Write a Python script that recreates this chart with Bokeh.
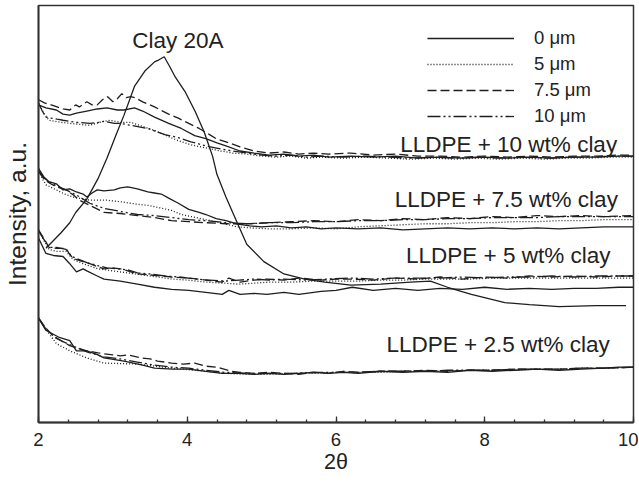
from bokeh.plotting import figure
from bokeh.models import Range1d, SingleIntervalTicker, FixedTicker, Legend, LegendItem, ColumnDataSource
from bokeh.embed import file_html
from bokeh.resources import INLINE
from bokeh.core.properties import value

FONT = "Liberation Sans"

thickness_labels = ["0 μm", "5 μm", "7.5 μm", "10 μm"]
group_labels = ["LLDPE + 10 wt% clay", "LLDPE + 7.5 wt% clay", "LLDPE + 5 wt% clay", "LLDPE + 2.5 wt% clay"]
group_label_x = [9.78, 9.79, 9.69, 9.68]
group_label_y = [271, 218, 163, 76]
clay_label = ["Clay 20A"]
clay_label_x = [3.26]
clay_label_y = [373]

# Clay 20A
x_clay = [2.1, 2.3, 2.42, 2.5, 2.65, 2.8, 2.92, 3.05, 3.15, 3.29, 3.43, 3.56, 3.62, 3.69, 3.76, 3.84,
          3.97, 4.11, 4.23, 4.34, 4.4, 4.52, 4.66, 4.8, 5.03, 5.3, 5.58, 5.85, 6.2, 6.6, 7.0, 7.27,
          7.5, 7.82, 8.27, 8.6, 9.0, 9.5, 9.9]
y_clay = [170, 185, 195, 205, 218, 238, 258, 282, 300, 328, 343, 352, 354, 357, 348, 337,
          323, 303, 283, 260, 242, 220, 197, 174, 157, 145, 140, 137, 134, 135, 137, 138,
          132, 125, 117, 115, 113, 114, 114]

# LLDPE + 10 wt% clay
x_10_0 = [2.00, 2.10, 2.24, 2.33, 2.42, 2.51, 2.65, 2.79, 2.92, 3.06, 3.15, 3.29, 3.40, 3.56, 3.75, 3.92,
          4.10, 4.25, 4.40, 4.52, 4.71, 4.90, 5.1, 5.3, 5.5, 5.7, 5.9, 6.2, 6.5, 6.8, 7.1, 7.4, 7.7,
          8.0, 8.3, 8.6, 8.9, 9.2, 9.5, 9.8, 10.0]
y_10_0 = [310, 307, 305, 301, 300, 302, 304, 306, 307, 305, 305, 307, 304, 298, 292, 287,
          280, 277, 273, 270, 265, 263, 261, 262, 260, 261, 259, 260, 259, 260, 258, 259, 258,
          259, 258, 259, 258, 259, 259, 260, 260]
x_10_5 = [2.00, 2.07, 2.14, 2.30, 2.42, 2.55, 2.69, 2.82, 2.96, 3.10, 3.24, 3.40, 3.56, 3.75, 3.88, 4.05,
          4.25, 4.45, 4.61, 4.80, 5.0, 5.2, 5.4, 5.6, 5.8, 6.1, 6.4, 6.7, 7.0, 7.3, 7.6, 7.9, 8.2,
          8.5, 8.8, 9.1, 9.4, 9.7, 10.0]
y_10_5 = [312, 302, 295, 293, 292, 291, 290, 293, 295, 293, 293, 289, 285, 279, 275, 271,
          268, 265, 263, 262, 260, 259, 260, 258, 259, 258, 259, 258, 257, 258, 257, 258, 257,
          258, 257, 258, 258, 259, 259]
x_10_75 = [2.00, 2.08, 2.17, 2.25, 2.33, 2.42, 2.50, 2.55, 2.65, 2.72, 2.79, 2.86, 2.93, 3.00, 3.06, 3.12,
           3.18, 3.24, 3.30, 3.40, 3.56, 3.75, 3.88, 4.02, 4.16, 4.30, 4.39, 4.52, 4.71, 4.90, 5.1,
           5.3, 5.5, 5.7, 5.9, 6.2, 6.5, 6.8, 7.1, 7.4, 7.7, 8.0, 8.3, 8.6, 8.9, 9.2, 9.5, 9.8, 10.0]
y_10_75 = [315, 312, 310, 308, 306, 305, 310, 308, 313, 310, 310, 315, 318, 313, 316, 321,
           317, 318, 317, 313, 308, 301, 297, 292, 287, 281, 277, 274, 269, 265, 263,
           264, 262, 263, 262, 263, 261, 262, 260, 260, 259, 260, 259, 260, 259, 260, 260, 261, 261]
x_10_10 = [2.00, 2.05, 2.10, 2.25, 2.33, 2.50, 2.69, 2.82, 2.88, 3.02, 3.10, 3.24, 3.47, 3.70, 3.88, 4.05,
           4.25, 4.45, 4.61, 4.80, 5.0, 5.2, 5.4, 5.6, 5.8, 6.1, 6.4, 6.7, 7.0, 7.3, 7.6, 7.9, 8.2,
           8.5, 8.8, 9.1, 9.4, 9.7, 10.0]
y_10_10 = [312, 304, 298, 296, 295, 293, 292, 293, 294, 292, 292, 290, 287, 281, 278, 274,
           270, 267, 265, 263, 261, 260, 261, 259, 260, 259, 260, 259, 258, 259, 258, 259, 258,
           259, 258, 259, 259, 260, 260]

# LLDPE + 7.5 wt% clay
x_75_0 = [2.00, 2.07, 2.14, 2.24, 2.33, 2.42, 2.51, 2.60, 2.65, 2.72, 2.79, 2.88, 3.02, 3.10, 3.20, 3.33,
          3.47, 3.56, 3.65, 3.75, 3.88, 4.02, 4.16, 4.25, 4.39, 4.52, 4.66, 4.84, 5.0, 5.2, 5.4, 5.6,
          5.8, 6.0, 6.3, 6.6, 6.9, 7.2, 7.5, 7.8, 8.1, 8.4, 8.7, 9.0, 9.3, 9.6, 10.0]
y_75_0 = [248, 240, 235, 233, 227, 228, 225, 223, 220, 224, 227, 226, 227, 229, 230, 228,
          225, 224, 223, 219, 214, 208, 205, 203, 199, 197, 194, 192, 191, 192, 190, 191,
          189, 190, 189, 190, 188, 189, 190, 189, 190, 189, 190, 189, 190, 191, 191]
x_75_5 = [2.00, 2.05, 2.10, 2.24, 2.35, 2.47, 2.69, 2.92, 3.15, 3.33, 3.47, 3.79, 3.92, 4.25, 4.45, 4.66,
          4.84, 5.1, 5.4, 5.7, 6.0, 6.3, 6.6, 6.9, 7.2, 7.5, 7.8, 8.1, 8.4, 8.7, 9.0, 9.3, 9.6, 10.0]
y_75_5 = [248, 238, 232, 227, 223, 220, 217, 217, 215, 213, 212, 207, 203, 198, 195, 191,
          190, 189, 189, 190, 189, 191, 192, 193, 194, 194, 195, 195, 196, 196, 197, 197, 198, 198]
x_75_75 = [2.00, 2.07, 2.14, 2.24, 2.37, 2.47, 2.55, 2.69, 2.88, 3.10, 3.33, 3.56, 3.79, 4.02, 4.25, 4.52,
           4.84, 5.1, 5.4, 5.7, 6.0, 6.3, 6.6, 6.9, 7.2, 7.5, 7.8, 8.1, 8.4, 8.7, 9.0, 9.3, 9.6, 10.0]
y_75_75 = [245, 238, 234, 230, 227, 222, 217, 212, 205, 204, 202, 200, 197, 196, 195, 194,
           194, 195, 196, 197, 196, 198, 197, 199, 198, 200, 199, 201, 200, 202, 201, 202, 201, 202]
x_75_10 = [2.00, 2.07, 2.14, 2.24, 2.37, 2.51, 2.69, 2.88, 3.10, 3.33, 3.56, 3.79, 4.02, 4.25, 4.52, 4.84,
           5.1, 5.4, 5.7, 6.0, 6.3, 6.6, 6.9, 7.2, 7.5, 7.8, 8.1, 8.4, 8.7, 9.0, 9.3, 9.6, 10.0]
y_75_10 = [246, 239, 235, 231, 227, 222, 214, 209, 206, 203, 202, 200, 198, 197, 195, 194,
           195, 195, 196, 196, 197, 197, 198, 198, 199, 199, 200, 200, 200, 201, 201, 201, 201]

# LLDPE + 5 wt% clay
x_5_0 = [2.00, 2.10, 2.20, 2.33, 2.42, 2.51, 2.60, 2.65, 2.79, 2.88, 3.10, 3.33, 3.56, 3.79, 4.02, 4.25,
         4.47, 4.56, 4.71, 4.90, 5.07, 5.3, 5.5, 5.8, 6.0, 6.22, 6.5, 6.8, 7.1, 7.4, 7.7, 8.0, 8.3,
         8.6, 8.9, 9.2, 9.5, 9.8, 10.0]
y_5_0 = [180, 165, 163, 162, 155, 147, 150, 148, 143, 140, 138, 135, 132, 130, 129, 127,
         125, 129, 125, 126, 125, 127, 125, 128, 129, 132, 129, 131, 129, 131, 130, 132, 130,
         131, 130, 131, 131, 132, 132]
x_5_5 = [2.00, 2.07, 2.14, 2.24, 2.37, 2.47, 2.6, 2.8, 3.0, 3.2, 3.4, 3.6, 3.8, 4.0, 4.25, 4.5,
         4.7, 4.9, 5.1, 5.4, 5.7, 6.0, 6.3, 6.6, 6.9, 7.2, 7.5, 7.8, 8.1, 8.4, 8.7, 9.0, 9.3, 9.6, 10.0]
y_5_5 = [188, 178, 169, 167, 167, 159, 155, 150, 148, 146, 144, 142, 140, 139, 137, 136,
         135, 136, 137, 137, 138, 138, 138, 139, 139, 140, 140, 140, 141, 141, 141, 141, 141, 141, 141]
x_5_75 = [2.00, 2.07, 2.14, 2.24, 2.37, 2.42, 2.47, 2.60, 2.69, 2.80, 2.88, 3.00, 3.10, 3.20, 3.33, 3.50,
          3.65, 3.79, 4.02, 4.25, 4.47, 4.56, 4.71, 4.90, 5.07, 5.3, 5.5, 5.8, 6.0, 6.22, 6.5, 6.8,
          7.1, 7.4, 7.7, 8.0, 8.3, 8.6, 8.9, 9.2, 9.5, 9.8, 10.0]
y_5_75 = [188, 180, 171, 170, 170, 164, 160, 157, 155, 152, 150, 151, 150, 148, 145, 144,
          143, 142, 141, 139, 137, 141, 137, 139, 140, 139, 141, 139, 140, 140, 139, 141,
          140, 142, 140, 142, 141, 143, 142, 143, 142, 143, 143]
x_5_10 = [2.00, 2.07, 2.14, 2.24, 2.37, 2.45, 2.55, 2.65, 2.80, 2.92, 3.05, 3.20, 3.33, 3.50, 3.70, 3.90,
          4.10, 4.30, 4.50, 4.70, 4.90, 5.1, 5.3, 5.6, 5.9, 6.2, 6.5, 6.8, 7.1, 7.4, 7.7, 8.0, 8.3,
          8.6, 8.9, 9.2, 9.5, 9.8, 10.0]
y_5_10 = [187, 179, 171, 171, 169, 162, 159, 156, 153, 151, 150, 149, 146, 145, 143, 142,
          140, 139, 138, 139, 140, 139, 140, 139, 140, 141, 140, 141, 141, 141, 142, 141, 142,
          142, 143, 142, 143, 143, 143]

# LLDPE + 2.5 wt% clay
x_25_0 = [2.00, 2.10, 2.28, 2.42, 2.51, 2.65, 2.80, 2.88, 3.15, 3.40, 3.56, 3.80, 4.02, 4.25, 4.47, 4.71,
          4.9, 5.1, 5.3, 5.5, 5.7, 5.9, 6.1, 6.3, 6.6, 6.9, 7.2, 7.5, 7.8, 8.1, 8.4, 8.7, 9.0, 9.3,
          9.6, 9.8, 10.0]
y_25_0 = [102, 90, 83, 80, 70, 70, 66, 63, 60, 56, 53, 52, 52, 50, 48, 48,
          47, 48, 47, 48, 49, 48, 49, 48, 50, 49, 50, 49, 51, 50, 51, 52, 51, 52,
          53, 54, 54]
x_25_5 = [2.00, 2.08, 2.14, 2.24, 2.42, 2.65, 2.88, 3.33, 3.79, 4.25, 4.5, 4.8, 5.1, 5.4, 5.7, 6.0,
          6.3, 6.6, 6.9, 7.2, 7.5, 7.8, 8.1, 8.4, 8.7, 9.0, 9.3, 9.6, 10.0]
y_25_5 = [102, 94, 87, 77, 70, 63, 58, 57, 53, 50, 48, 47, 47, 48, 48, 49,
          49, 49, 50, 50, 50, 51, 51, 51, 52, 52, 53, 53, 54]
x_25_75 = [2.00, 2.10, 2.19, 2.30, 2.42, 2.55, 2.65, 2.80, 2.88, 3.00, 3.10, 3.20, 3.38, 3.50, 3.60, 3.79,
           3.95, 4.10, 4.25, 4.40, 4.60, 4.71, 4.9, 5.1, 5.3, 5.5, 5.7, 5.9, 6.1, 6.3, 6.6, 6.9,
           7.2, 7.5, 7.8, 8.1, 8.4, 8.7, 9.0, 9.3, 9.6, 10.0]
y_25_75 = [102, 92, 85, 80, 75, 72, 70, 68, 67, 66, 65, 66, 63, 62, 60, 58,
           57, 58, 55, 54, 50, 49, 48, 49, 48, 47, 49, 48, 50, 49, 50, 50,
           51, 50, 51, 51, 52, 52, 52, 53, 53, 54]
x_25_10 = [2.00, 2.10, 2.24, 2.42, 2.65, 2.88, 3.10, 3.33, 3.56, 3.79, 4.02, 4.25, 4.5, 4.8, 5.1, 5.4,
           5.7, 6.0, 6.3, 6.6, 6.9, 7.2, 7.5, 7.8, 8.1, 8.4, 8.7, 9.0, 9.3, 9.6, 10.0]
y_25_10 = [102, 91, 82, 76, 69, 64, 62, 59, 56, 54, 53, 51, 49, 48, 48, 48,
           49, 49, 49, 50, 50, 50, 51, 51, 51, 52, 52, 52, 53, 53, 54]

groups = [
    [(x_10_0, y_10_0), (x_10_5, y_10_5), (x_10_75, y_10_75), (x_10_10, y_10_10)],
    [(x_75_0, y_75_0), (x_75_5, y_75_5), (x_75_75, y_75_75), (x_75_10, y_75_10)],
    [(x_5_0, y_5_0), (x_5_5, y_5_5), (x_5_75, y_5_75), (x_5_10, y_5_10)],
    [(x_25_0, y_25_0), (x_25_5, y_25_5), (x_25_75, y_25_75), (x_25_10, y_25_10)],
]

dashes = ["solid", "1 2", "9 4", "13 3 2 3 2 3"]
LINE = "#1e1e1e"
AX = "#333333"

p = figure(width=638, height=478, x_range=Range1d(2, 10), y_range=Range1d(0, 407),
           output_backend="svg", toolbar_location=None,
           min_border_left=36, min_border_right=5, min_border_top=5, min_border_bottom=56)
p.grid.visible = False
p.background_fill_color = "white"
p.border_fill_color = "white"
p.outline_line_color = AX
p.outline_line_width = 1.5

legend_renderers = []
for gi, grp in enumerate(groups):
    for si, (xs, ys) in enumerate(grp):
        r = p.line(xs, ys, line_color=LINE, line_width=1.3, line_dash=dashes[si])
        if gi == 3:
            legend_renderers.append(r)

p.line(x_clay, y_clay, line_color=LINE, line_width=1.3)

lab_src = ColumnDataSource(dict(x=group_label_x, y=group_label_y, t=group_labels))
p.text(x="x", y="y", text="t", source=lab_src, text_align="right", text_baseline="alphabetic",
       text_font=value(FONT), text_font_size="22.5px", text_color="#222222")
clay_src = ColumnDataSource(dict(x=clay_label_x, y=clay_label_y, t=clay_label))
p.text(x="x", y="y", text="t", source=clay_src, text_align="left", text_baseline="alphabetic",
       text_font=value(FONT), text_font_size="22.5px", text_color="#222222")

legend = Legend(items=[LegendItem(label=thickness_labels[i], renderers=[legend_renderers[i]]) for i in range(4)],
                location=(389, 293), orientation="vertical",
                glyph_width=87, glyph_height=26, label_height=26, label_standoff=20,
                spacing=0, padding=0, margin=0,
                border_line_color=None, background_fill_alpha=0,
                label_text_font=FONT, label_text_font_size="18.5px", label_text_color="#222222")
p.add_layout(legend)

xa = p.xaxis[0]
xa.ticker = SingleIntervalTicker(interval=2, num_minor_ticks=5)
xa.axis_label = "2θ"
xa.axis_label_text_font = FONT
xa.axis_label_text_font_size = "21.5px"
xa.axis_label_text_font_style = "normal"
xa.axis_label_text_color = "#222222"
xa.axis_label_standoff = 1
xa.major_label_text_font = FONT
xa.major_label_text_font_size = "18.5px"
xa.major_label_text_color = "#222222"
xa.major_label_standoff = 10
xa.major_tick_in = 6
xa.major_tick_out = 0
xa.minor_tick_in = 3
xa.minor_tick_out = 0
xa.axis_line_color = AX
xa.axis_line_width = 1.8
xa.major_tick_line_color = AX
xa.minor_tick_line_color = AX
xa.major_tick_line_width = 1.3
xa.minor_tick_line_width = 1.3

ya = p.yaxis[0]
ya.ticker = FixedTicker(ticks=[])
ya.axis_label = "Intensity, a.u."
ya.axis_label_text_font = FONT
ya.axis_label_text_font_size = "24.5px"
ya.axis_label_text_font_style = "normal"
ya.axis_label_text_color = "#222222"
ya.axis_label_standoff = 8
ya.major_label_standoff = 0
ya.major_tick_in = 0
ya.major_tick_out = 0
ya.minor_tick_in = 0
ya.minor_tick_out = 0
ya.axis_line_color = AX
ya.axis_line_width = 1.8

open("out.html", "w").write(file_html(p, INLINE))
